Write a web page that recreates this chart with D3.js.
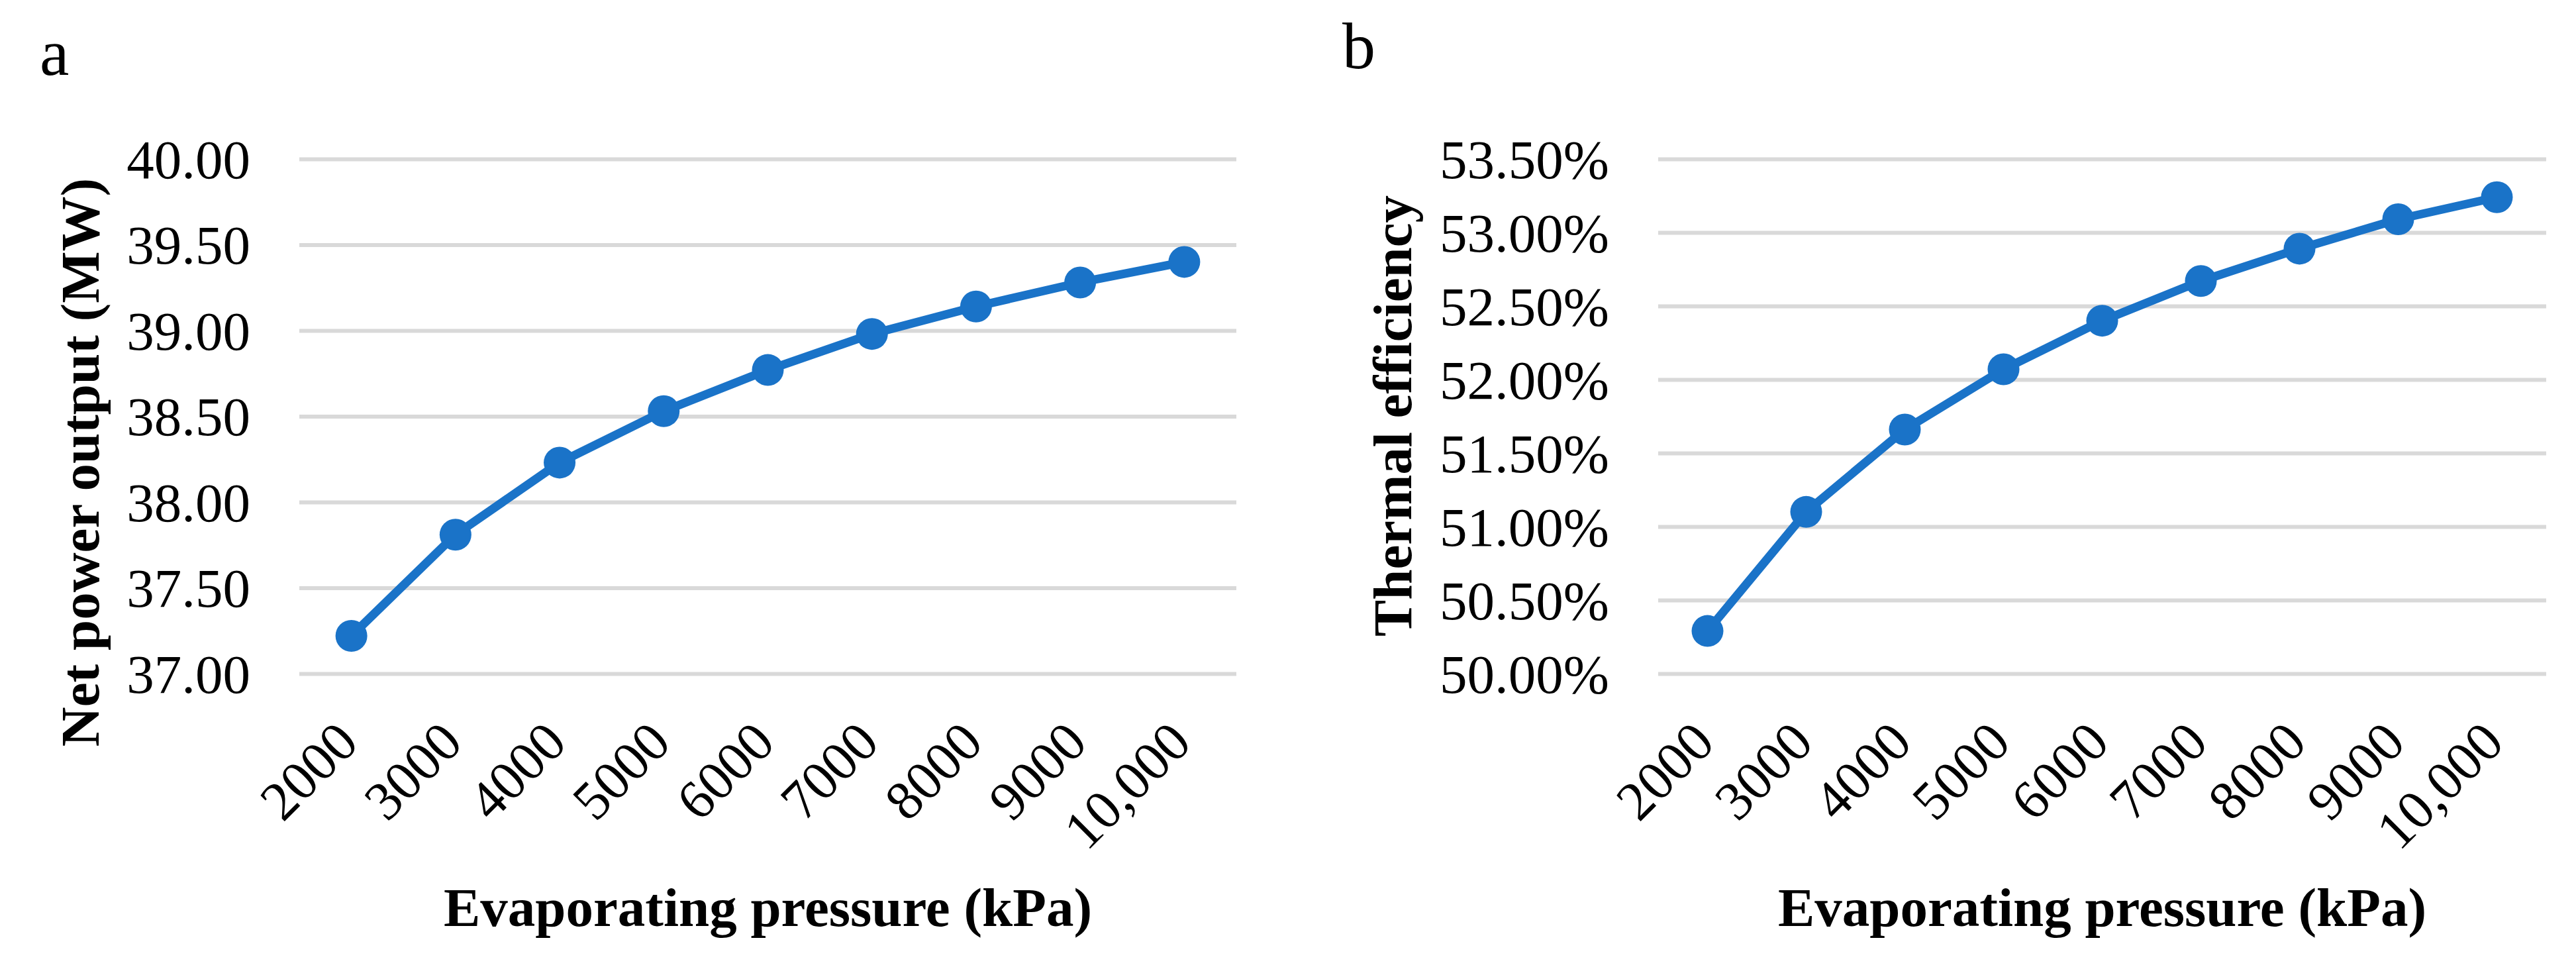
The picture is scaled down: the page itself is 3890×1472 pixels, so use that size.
<!DOCTYPE html>
<html>
<head>
<meta charset="utf-8">
<script src="https://cdn.jsdelivr.net/npm/d3@7"></script>
<style>
  body { margin: 0; background: #fff; }
  text { font-family: "Liberation Serif", "Times New Roman", serif; fill: #000; }
</style>
</head>
<body>
<div id="chart"></div>
<script>
// data
var pressures = ["2000", "3000", "4000", "5000", "6000", "7000", "8000", "9000", "10,000"];
var netPower = [37.22, 37.81, 38.23, 38.53, 38.77, 38.98, 39.14, 39.28, 39.40];
var thermalEff = [50.29, 51.10, 51.66, 52.07, 52.40, 52.67, 52.89, 53.09, 53.24];
var powerTicks = [37.00, 37.50, 38.00, 38.50, 39.00, 39.50, 40.00];
var effTicks = [50.00, 50.50, 51.00, 51.50, 52.00, 52.50, 53.00, 53.50];

var W = 3890, H = 1472;
var blue = "#1a73c8";

var svg = d3.select('#chart').append('svg')
  .attr('width', W)
  .attr('height', H);

function panel(opt) {
  var x = d3.scaleBand().domain(pressures).range([opt.left, opt.right]).padding(0);
  var y = d3.scaleLinear().domain([opt.ticks[0], opt.ticks[opt.ticks.length - 1]])
    .range([opt.bottom, opt.top]);

  // gridlines + y labels
  var yAxis = svg.append('g')
    .attr('transform', 'translate(' + opt.left + ',0)')
    .call(d3.axisLeft(y).tickValues(opt.ticks).tickSize(-(opt.right - opt.left))
      .tickPadding(74).tickFormat(opt.fmt));
  yAxis.select('.domain').remove();
  yAxis.selectAll('line').attr('stroke', '#d9d9d9').attr('stroke-width', 6);
  yAxis.selectAll('text')
    .attr('font-size', 83)
    .attr('dy', '0.34em')
    .style('font-family', '"Liberation Serif", serif');

  // x labels
  var xAxis = svg.append('g')
    .attr('transform', 'translate(0,' + opt.bottom + ')')
    .call(d3.axisBottom(x).tickSize(0).tickPadding(0));
  xAxis.select('.domain').remove();
  xAxis.selectAll('text')
    .attr('font-size', 83)
    .attr('text-anchor', 'end')
    .attr('y', 0)
    .attr('dy', 0)
    .attr('transform', 'translate(14,108) rotate(-45)')
    .style('font-family', '"Liberation Serif", serif');

  // series
  var line = d3.line()
    .x(function (d, i) { return x(pressures[i]) + x.bandwidth() / 2; })
    .y(function (d) { return y(d); });

  svg.append('path')
    .datum(opt.values)
    .attr('d', line)
    .attr('fill', 'none')
    .attr('stroke', blue)
    .attr('stroke-width', 13)
    .attr('stroke-linejoin', 'round');

  svg.selectAll('circle.' + opt.cls).data(opt.values)
    .enter().append('circle')
    .attr('class', opt.cls)
    .attr('r', 24)
    .attr('cx', function (d, i) { return x(pressures[i]) + x.bandwidth() / 2; })
    .attr('cy', function (d) { return y(d); })
    .attr('fill', blue);

  // titles
  svg.append('text')
    .attr('transform', 'translate(' + opt.yTitleX + ',' + opt.yTitleY + ') rotate(-90)')
    .attr('text-anchor', 'middle')
    .attr('font-size', 83)
    .attr('font-weight', 'bold')
    .text(opt.yTitle);

  svg.append('text')
    .attr('x', (opt.left + opt.right) / 2)
    .attr('y', 1398)
    .attr('text-anchor', 'middle')
    .attr('font-size', 83)
    .attr('font-weight', 'bold')
    .text('Evaporating pressure (kPa)');

  svg.append('text')
    .attr('x', opt.letterX)
    .attr('y', opt.letterY)
    .attr('font-size', 100)
    .text(opt.letter);
}

panel({
  cls: 'a', letter: 'a', letterX: 60, letterY: 113,
  left: 452, right: 1867, top: 240, bottom: 1017,
  ticks: powerTicks, values: netPower,
  fmt: function (d) { return d3.format('.2f')(d); },
  yTitle: 'Net power output (MW)', yTitleX: 149, yTitleY: 698
});

panel({
  cls: 'b', letter: 'b', letterX: 2027, letterY: 103,
  left: 2504, right: 3845, top: 240, bottom: 1017,
  ticks: effTicks, values: thermalEff,
  fmt: function (d) { return d3.format('.2f')(d) + '%'; },
  yTitle: 'Thermal efficiency', yTitleX: 2131, yTitleY: 628
});
</script>
</body>
</html>
